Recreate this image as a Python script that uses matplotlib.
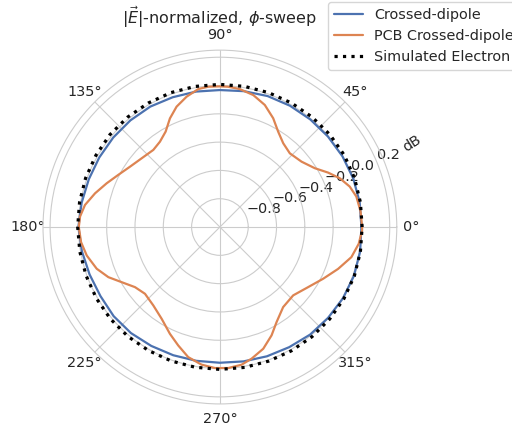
import numpy as np
import matplotlib.pyplot as plt
import seaborn as sns

sns.set_style("whitegrid")
plt.rcParams.update({
    "font.size": 10.4,
    "xtick.labelsize": 10.4,
    "ytick.labelsize": 10.4,
    "legend.fontsize": 10.4,
    "xtick.major.size": 0,
    "xtick.major.pad": 3.6,
})

# phi angles (deg) and normalized |E| in dB
phi_deg = [0, 10, 20, 30, 40, 50, 60, 70, 80, 90, 100, 110, 120, 130, 140, 150, 160, 170, 180,
           190, 200, 210, 220, 230, 240, 250, 260, 270, 280, 290, 300, 310, 320, 330, 340, 350, 360]
crossed_dipole = [0.0, 0.003, 0.003, 0.0, -0.004, -0.007, -0.01, -0.015, -0.025, -0.032,
                  -0.028, -0.024, -0.017, -0.016, -0.016, -0.016, -0.014, -0.008, 0.0,
                  -0.01, -0.02, -0.025, -0.02, -0.022, -0.03, -0.036, -0.04, -0.041,
                  -0.036, -0.028, -0.02, -0.008, -0.002, 0.005, 0.008, 0.006, 0.0]
simulated_electron = [0.005, 0.008, 0.012, 0.015, 0.015, 0.014, 0.012, 0.01, 0.009, 0.008,
                      0.009, 0.011, 0.012, 0.014, 0.015, 0.012, 0.01, 0.007, 0.005,
                      0.005, 0.006, 0.008, 0.01, 0.01, 0.008, 0.007, 0.006, 0.006,
                      0.007, 0.008, 0.01, 0.012, 0.012, 0.012, 0.011, 0.008, 0.005]

pcb_phi_deg = [0, 6.3, 12.6, 17.3, 22.1, 26.7, 31.8, 38.7, 46.5, 52.9, 58.6, 63.9, 69.8, 75.8, 81.8, 86.6, 90,
               94.7, 98.9, 104.3, 109.8, 114.7, 119.6, 125.1, 130.8, 138.7, 146.1, 152.8, 158.9, 164.9, 170.7, 175.7, 180,
               186.2, 192.1, 198.7, 204.2, 209.3, 215.3, 221.7, 229.7, 237.6, 244.9, 250.6, 256.3, 262.4, 268, 273.4,
               278.9, 283.5, 289.6, 295.5, 300.8, 308.3, 317, 325.7, 333.4, 340.5, 347.1, 353.1, 358.6, 360]
pcb_crossed_dipole = [0.005, 0.0, -0.012, -0.039, -0.085, -0.144, -0.211, -0.261, -0.282, -0.258, -0.21, -0.144, -0.081, -0.038, -0.015, -0.007, -0.006,
                      -0.005, -0.013, -0.049, -0.096, -0.155, -0.224, -0.263, -0.28, -0.264, -0.235, -0.193, -0.142, -0.086, -0.034, -0.009, -0.003,
                      -0.013, -0.038, -0.081, -0.136, -0.204, -0.265, -0.291, -0.273, -0.232, -0.167, -0.113, -0.054, -0.019, -0.003, -0.002,
                      -0.015, -0.043, -0.087, -0.152, -0.218, -0.279, -0.292, -0.246, -0.184, -0.114, -0.047, -0.012, 0.005, 0.005]

fig = plt.figure(figsize=(5.12, 4.3), dpi=100)
ax = fig.add_axes([0.084, 0.0605, 0.691, 0.823], projection="polar")

ax.plot(np.deg2rad(phi_deg), crossed_dipole, color="#4c72b0", lw=1.6, label="Crossed-dipole")
ax.plot(np.deg2rad(pcb_phi_deg), pcb_crossed_dipole, color="#dd8452", lw=1.6, label="PCB Crossed-dipole")
ax.plot(np.deg2rad(phi_deg), simulated_electron, color="k", ls=":", lw=2.3, label="Simulated Electron")

ax.set_ylim(-1.0, 0.25)
ax.set_yticks([-0.8, -0.6, -0.4, -0.2, 0.0, 0.2])
ax.text(np.deg2rad(23.5), 0.48, "dB", rotation=33, ha="center", va="center", fontsize=10.4)

# fixed title height, sitting just above the 90° label
ax.set_title(r"$|\vec{E}|$-normalized, $\phi$-sweep", fontsize=11.5, y=1.073, pad=0)
ax.legend(loc="upper left", bbox_to_anchor=(0.641, 0.995), bbox_transform=fig.transFigure,
          borderaxespad=0)

fig.savefig("out.png", dpi=100)
